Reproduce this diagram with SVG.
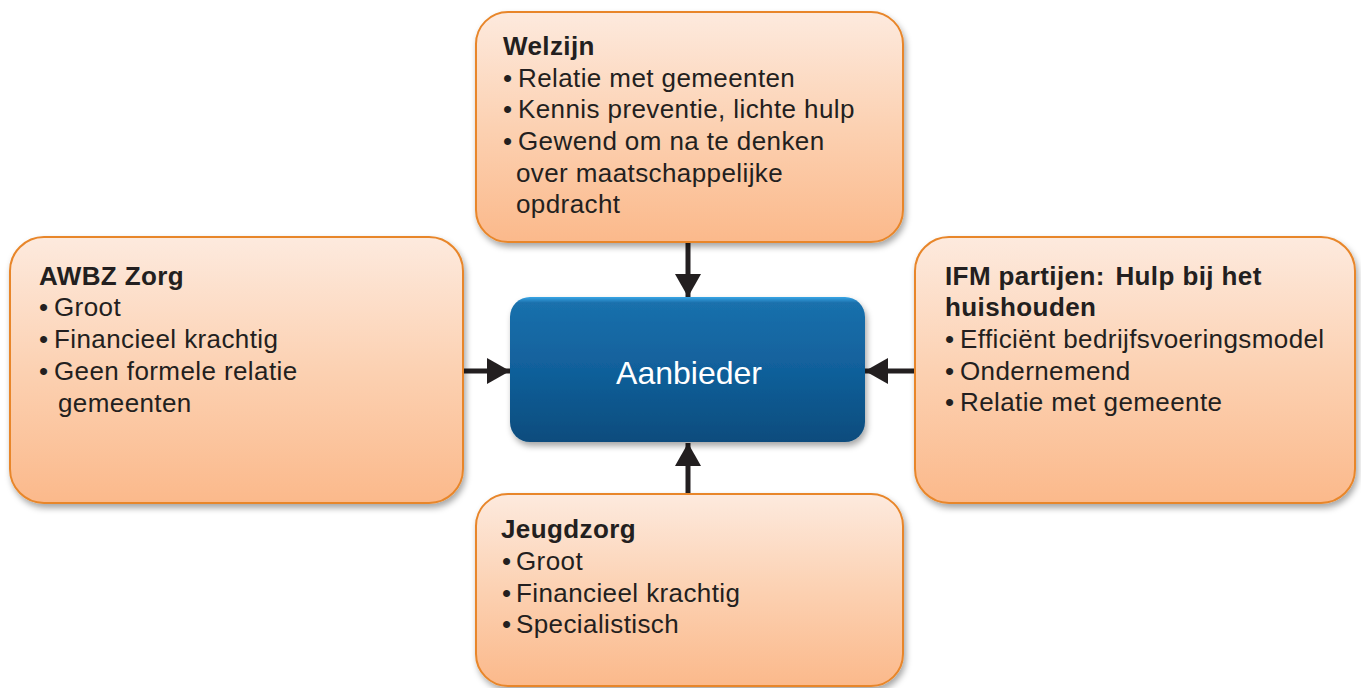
<svg xmlns="http://www.w3.org/2000/svg" width="1361" height="688" viewBox="0 0 1361 688">
<defs>
<linearGradient id="og" x1="0" y1="0" x2="0" y2="1">
<stop offset="0" stop-color="#fdeade"/>
<stop offset="0.5" stop-color="#fcd1b2"/>
<stop offset="1" stop-color="#fbb98b"/>
</linearGradient>
<linearGradient id="bg" x1="0" y1="0" x2="0" y2="1">
<stop offset="0" stop-color="#38a6e6"/>
<stop offset="0.04" stop-color="#1a70ac"/>
<stop offset="0.5" stop-color="#11609b"/>
<stop offset="1" stop-color="#0b4c7d"/>
</linearGradient>
<filter id="sh" x="-10%" y="-10%" width="125%" height="130%">
<feDropShadow dx="2" dy="4" stdDeviation="3" flood-color="#000" flood-opacity="0.35"/>
</filter>
<marker id="ah" markerUnits="userSpaceOnUse" markerWidth="24" markerHeight="26" refX="23" refY="13" orient="auto">
<path d="M0,0 L23,13 L0,26 Z" fill="#231f20"/>
</marker>
</defs>
<style>
.box{fill:url(#og);stroke:#e8862a;stroke-width:2;filter:url(#sh)}
.t{font-family:"Liberation Sans",Arial,sans-serif;font-size:26px;fill:#231f20;letter-spacing:0.4px}
.b{font-weight:bold}
.c{stroke:#231f20;stroke-width:5;fill:none;marker-end:url(#ah)}
</style>
<rect width="1361" height="688" fill="#ffffff"/>
<g id="connectors">
<line class="c" x1="688" y1="242" x2="688" y2="297"/>
<line class="c" x1="463" y1="371" x2="510" y2="371"/>
<line class="c" x1="915" y1="371" x2="865" y2="371"/>
<line class="c" x1="688" y1="494" x2="688" y2="443"/>
</g>
<g id="welzijn">
<rect class="box" x="476" y="12" width="427" height="230" rx="32"/>
<text class="t b" x="503" y="55">Welzijn</text>
<text class="t" y="87"><tspan x="503">•</tspan><tspan x="518">Relatie met gemeenten</tspan></text>
<text class="t" y="118"><tspan x="503">•</tspan><tspan x="518">Kennis preventie, lichte hulp</tspan></text>
<text class="t" y="150"><tspan x="503">•</tspan><tspan x="518">Gewend om na te denken</tspan></text>
<text class="t" x="516" y="182">over maatschappelijke</text>
<text class="t" x="516" y="213">opdracht</text>
</g>
<g id="awbz">
<rect class="box" x="10" y="237" width="453" height="266" rx="34"/>
<text class="t b" x="39" y="285">AWBZ Zorg</text>
<text class="t" y="316"><tspan x="39">•</tspan><tspan x="54">Groot</tspan></text>
<text class="t" y="348"><tspan x="39">•</tspan><tspan x="54">Financieel krachtig</tspan></text>
<text class="t" y="380"><tspan x="39">•</tspan><tspan x="54">Geen formele relatie</tspan></text>
<text class="t" x="58" y="412">gemeenten</text>
</g>
<g id="ifm">
<rect class="box" x="915" y="237" width="440" height="266" rx="34"/>
<text class="t b" x="945" y="285">IFM partijen: <tspan dx="3">Hulp bij het</tspan></text>
<text class="t b" x="945" y="316">huishouden</text>
<text class="t" y="348"><tspan x="945">•</tspan><tspan x="960">Efficiënt bedrijfsvoeringsmodel</tspan></text>
<text class="t" y="380"><tspan x="945">•</tspan><tspan x="960">Ondernemend</tspan></text>
<text class="t" y="411"><tspan x="945">•</tspan><tspan x="960">Relatie met gemeente</tspan></text>
</g>
<g id="jeugdzorg">
<rect class="box" x="476" y="494" width="427" height="192" rx="32"/>
<text class="t b" x="501" y="538">Jeugdzorg</text>
<text class="t" y="570"><tspan x="502">•</tspan><tspan x="516">Groot</tspan></text>
<text class="t" y="602"><tspan x="502">•</tspan><tspan x="516">Financieel krachtig</tspan></text>
<text class="t" y="633"><tspan x="502">•</tspan><tspan x="516">Specialistisch</tspan></text>
</g>
<g id="aanbieder">
<rect x="510" y="297" width="355" height="145" rx="20" fill="url(#bg)" filter="url(#sh)"/>
<text x="689" y="384" text-anchor="middle" font-family="Liberation Sans, Arial, sans-serif" font-size="32" fill="#ffffff">Aanbieder</text>
</g>
</svg>
